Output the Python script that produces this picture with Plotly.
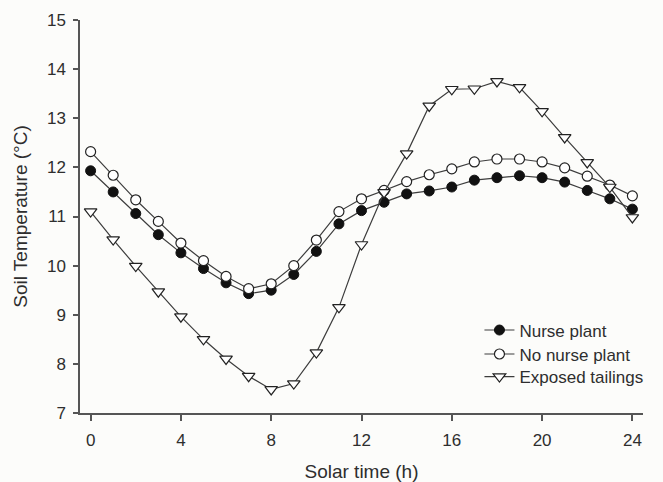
import plotly.graph_objects as go

hours = list(range(25))
nurse_plant = [11.93, 11.50, 11.06, 10.63, 10.26, 9.94, 9.65, 9.43, 9.50, 9.82, 10.29, 10.85, 11.12,
               11.29, 11.46, 11.52, 11.60, 11.74, 11.79, 11.83, 11.79, 11.70, 11.53, 11.36, 11.15]
no_nurse_plant = [12.32, 11.84, 11.34, 10.90, 10.46, 10.10, 9.78, 9.53, 9.63, 10.00, 10.52, 11.10, 11.36,
                  11.53, 11.71, 11.85, 11.97, 12.11, 12.17, 12.17, 12.11, 11.99, 11.82, 11.64, 11.42]
exposed_tailings = [11.10, 10.53, 9.99, 9.47, 8.96, 8.50, 8.10, 7.75, 7.48, 7.60, 8.23, 9.15, 10.43,
                    11.49, 12.28, 13.25, 13.59, 13.60, 13.75, 13.63, 13.14, 12.61, 12.10, 11.60, 10.98]

x_ticks = [0, 4, 8, 12, 16, 20, 24]
y_ticks = [7, 8, 9, 10, 11, 12, 13, 14, 15]

FONT = "Liberation Sans, Arial, sans-serif"
LINE = "#3c3c3c"
TEXT = "#2e2e2e"
BG = "#fcfcfa"

fig = go.Figure()
fig.add_trace(go.Scatter(
    x=hours, y=nurse_plant, name="Nurse plant", mode="lines+markers", legend="legend",
    line=dict(color=LINE, width=1.2),
    marker=dict(symbol="circle", size=10, color="#111111", line=dict(color="#111111", width=1)),
))
fig.add_trace(go.Scatter(
    x=hours, y=no_nurse_plant, name="No nurse plant", mode="lines+markers", legend="legend2",
    line=dict(color=LINE, width=1.2),
    marker=dict(symbol="circle", size=10, color="white", line=dict(color="#222222", width=1.2)),
))
fig.add_trace(go.Scatter(
    x=hours, y=exposed_tailings, name="Exposed tailings", mode="lines+markers", legend="legend3",
    line=dict(color=LINE, width=1.2),
    marker=dict(symbol="triangle-down", size=11, color="white", line=dict(color="#222222", width=1.2)),
))

def leg(ypos):
    return dict(
        x=0.7095, y=ypos, xanchor="left", yanchor="middle",
        bgcolor="rgba(0,0,0,0)", font=dict(size=17, color=TEXT),
        itemwidth=30,
    )

fig.update_layout(
    width=663, height=482,
    margin=dict(l=80, r=20, t=20, b=69),
    paper_bgcolor=BG, plot_bgcolor=BG,
    font=dict(family=FONT, size=17, color=TEXT),
    showlegend=True,
    legend=leg(0.2100),
    legend2=leg(0.1490),
    legend3=leg(0.0916),
    xaxis=dict(
        range=[-0.47, 24.47], tickvals=x_ticks, ticktext=[str(v) for v in x_ticks],
        showgrid=False, zeroline=False, showline=True, linecolor="#555555", linewidth=1.5,
        ticks="outside", ticklen=6, tickwidth=1.5, tickcolor="#555555",
        ticklabelstandoff=5, automargin=False,
        title=dict(text="Solar time (h)", font=dict(size=19, color=TEXT), standoff=27),
    ),
    yaxis=dict(
        range=[7, 15], tickvals=y_ticks, ticktext=[str(v) for v in y_ticks],
        showgrid=False, zeroline=False, showline=True, linecolor="#555555", linewidth=1.5,
        ticks="outside", ticklen=5, tickwidth=1.5, tickcolor="#555555",
        ticklabelstandoff=4, automargin=False,
        title=dict(text="Soil Temperature (°C)", font=dict(size=19, color=TEXT), standoff=14),
    ),
)

fig.write_html("out.html")
